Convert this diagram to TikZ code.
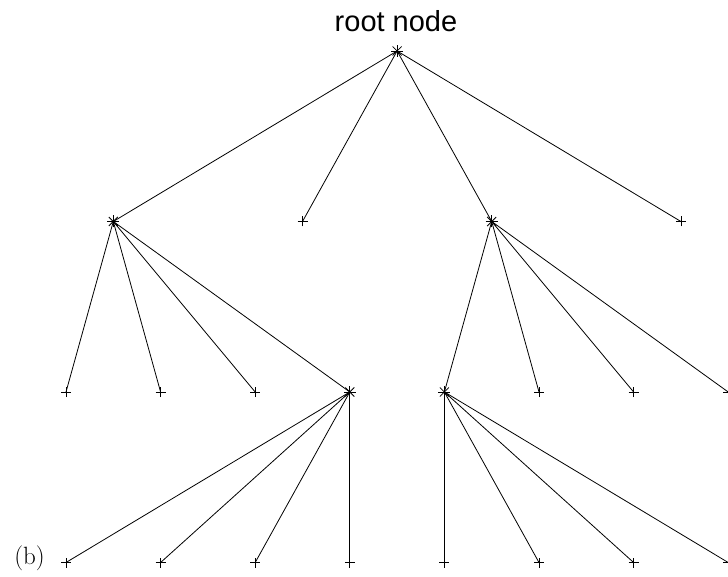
\documentclass[tikz,border=0pt]{standalone}
\usepackage{fontspec}
\newfontfamily\labelsans{Liberation Sans}
\begin{document}
\begin{tikzpicture}[x=1pt,y=-1pt,
  pt/.style={inner sep=0pt,minimum size=0pt,outer sep=0pt},
  edge/.style={line width=0.8pt,black},
  mk/.style={line width=0.8pt,black}]
\useasboundingbox (0,0) rectangle (728,577);
\def\dx{94.6}
% root
\node[pt] (r) at (397.1,51) {};
% level 1
\node[pt] (a) at (113.3,221.5) {};
\node[pt] (b) at (302.5,221.5) {};
\node[pt] (c) at (491.7,221.5) {};
\node[pt] (d) at (680.9,221.5) {};
% level 2
\node[pt] (a1) at (66,392) {};
\node[pt] (a2) at (160.6,392) {};
\node[pt] (a3) at (255.2,392) {};
\node[pt] (a4) at (349.8,392) {};
\node[pt] (c1) at (444.4,392) {};
\node[pt] (c2) at (539,392) {};
\node[pt] (c3) at (633.6,392) {};
\node[pt] (c4) at (728.2,392) {};
% level 3
\node[pt] (e1) at (66,562.5) {};
\node[pt] (e2) at (160.6,562.5) {};
\node[pt] (e3) at (255.2,562.5) {};
\node[pt] (e4) at (349.8,562.5) {};
\node[pt] (f1) at (444.4,562.5) {};
\node[pt] (f2) at (539,562.5) {};
\node[pt] (f3) at (633.6,562.5) {};
\node[pt] (f4) at (728.2,562.5) {};
% labels
\node[anchor=base,inner sep=0pt] (title) at (396,32) {\labelsans\fontsize{29}{32}\selectfont root node};
\node[anchor=base,inner sep=0pt] (blabel) at (29.5,564) {\fontsize{25}{28}\selectfont (b)};
% edges
\foreach \p/\q in {r/a,r/b,r/c,r/d,a/a1,a/a2,a/a3,a/a4,c/c1,c/c2,c/c3,c/c4,
  a4/e1,a4/e2,a4/e3,a4/e4,c1/f1,c1/f2,c1/f3,c1/f4}
  \draw[edge] (\p.center) -- (\q.center);
% star markers
\foreach \n in {r,a,c,a4,c1}{
  \draw[mk] ([xshift=-6pt]\n.center) -- ([xshift=6pt]\n.center);
  \draw[mk] ([yshift=-6pt]\n.center) -- ([yshift=6pt]\n.center);
  \draw[mk] ([shift={(-4.5pt,-4.5pt)}]\n.center) -- ([shift={(4.5pt,4.5pt)}]\n.center);
  \draw[mk] ([shift={(-4.5pt,4.5pt)}]\n.center) -- ([shift={(4.5pt,-4.5pt)}]\n.center);
}
% plus markers
\foreach \n in {b,d,a1,a2,a3,c2,c3,c4,e1,e2,e3,e4,f1,f2,f3,f4}{
  \draw[mk] ([xshift=-5pt]\n.center) -- ([xshift=5pt]\n.center);
  \draw[mk] ([yshift=-5pt]\n.center) -- ([yshift=5pt]\n.center);
}
\end{tikzpicture}
\end{document}
